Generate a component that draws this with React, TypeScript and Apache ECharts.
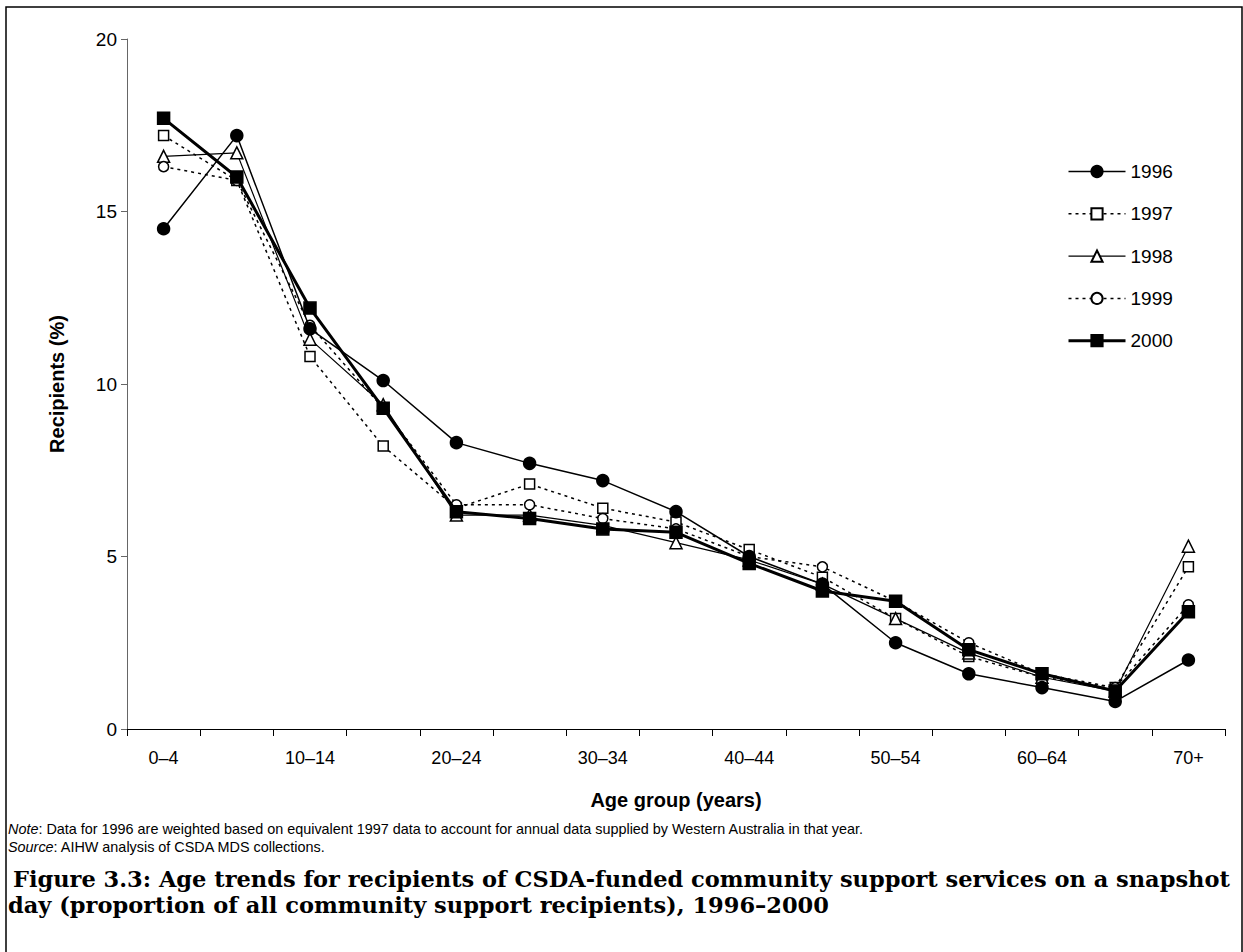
import React, { useEffect, useRef } from "react";
import * as echarts from "echarts";

const categories = ["0–4", "5–9", "10–14", "15–19", "20–24", "25–29", "30–34", "35–39", "40–44", "45–49", "50–54", "55–59", "60–64", "65–69", "70+"];
const y1996 = [14.5, 17.2, 11.6, 10.1, 8.3, 7.7, 7.2, 6.3, 5.0, 4.2, 2.5, 1.6, 1.2, 0.8, 2.0];
const y1997 = [17.2, 15.9, 10.8, 8.2, 6.4, 7.1, 6.4, 6.0, 5.2, 4.4, 3.2, 2.1, 1.5, 1.2, 4.7];
const y1998 = [16.6, 16.7, 11.3, 9.4, 6.2, 6.2, 5.9, 5.4, 4.9, 4.2, 3.2, 2.2, 1.5, 1.1, 5.3];
const y1999 = [16.3, 15.9, 11.7, 9.3, 6.5, 6.5, 6.1, 5.8, 5.0, 4.7, 3.7, 2.5, 1.6, 1.2, 3.6];
const y2000 = [17.7, 16.0, 12.2, 9.3, 6.3, 6.1, 5.8, 5.7, 4.8, 4.0, 3.7, 2.3, 1.6, 1.1, 3.4];

const SANS = "Arial, 'Liberation Sans', sans-serif";
const SERIF = "'Palatino Linotype', 'Book Antiqua', 'DejaVu Serif', serif";

export default function App() {
  const ref = useRef<HTMLDivElement>(null);
  useEffect(() => {
    if (!ref.current) return;
    const chart = echarts.init(ref.current, null, { renderer: "svg" });
    const styles: Record<string, { width: number; dotted: boolean }> = {
      "1996": { width: 1.5, dotted: false },
      "1997": { width: 1.5, dotted: true },
      "1998": { width: 1.2, dotted: false },
      "1999": { width: 1.5, dotted: true },
      "2000": { width: 3, dotted: false },
    };
    const mk = (name: string, data: number[], symbol: string, filled: boolean, size: number) => ({
      name,
      type: "line",
      data,
      symbol,
      symbolSize: size,
      lineStyle: { color: "#000", width: styles[name].width, type: styles[name].dotted ? [3, 4] : "solid" },
      itemStyle: { color: filled ? "#000" : "#fff", borderColor: "#000", borderWidth: 1.5 },
      emphasis: { disabled: true },
      z: filled ? 3 : 2,
    });
    chart.setOption({
      animation: false,
      backgroundColor: "#fff",
      grid: { left: 127, right: 18, top: 39, bottom: 223, containLabel: false },
      legend: {
        orient: "vertical",
        left: 1067,
        top: 162,
        padding: 0,
        itemWidth: 57,
        itemHeight: 14,
        itemGap: 23.3,
        textStyle: { fontSize: 19, color: "#000", fontFamily: SANS },
        data: ["1996", "1997", "1998", "1999", "2000"].map((n) => ({
          name: n,
          lineStyle: { color: "#000", width: styles[n].width, type: styles[n].dotted ? [3, 4] : "solid" },
        })),
      },
      xAxis: {
        type: "category",
        data: categories,
        boundaryGap: true,
        name: "Age group (years)",
        nameLocation: "middle",
        nameGap: 61,
        nameTextStyle: { fontSize: 20, fontWeight: "bold", color: "#000", fontFamily: SANS },
        axisLine: { lineStyle: { color: "#000", width: 1 } },
        axisTick: { show: true, interval: 0, length: 7, lineStyle: { color: "#000" } },
        axisLabel: { interval: 1, fontSize: 18, color: "#000", fontFamily: SANS, margin: 20 },
        splitLine: { show: false },
      },
      yAxis: {
        type: "value",
        min: 0,
        max: 20,
        interval: 5,
        name: "Recipients (%)",
        nameLocation: "middle",
        nameGap: 60,
        nameTextStyle: { fontSize: 20, fontWeight: "bold", color: "#000", fontFamily: SANS },
        axisLine: { show: true, lineStyle: { color: "#666", width: 1 } },
        axisTick: { show: true, length: 6, lineStyle: { color: "#666" } },
        axisLabel: { fontSize: 19, color: "#000", fontFamily: SANS, margin: 10 },
        splitLine: { show: false },
      },
      series: [
        mk("1996", y1996, "circle", true, 12),
        mk("1997", y1997, "rect", false, 10),
        mk("1998", y1998, "triangle", false, 12),
        mk("1999", y1999, "circle", false, 10),
        mk("2000", y2000, "rect", true, 12),
      ],
      graphic: [
        {
          type: "rect",
          shape: { x: 6, y: 7, width: 1236, height: 950 },
          style: { fill: "none", stroke: "#000", lineWidth: 1.5 },
          silent: true,
        },
        {
          type: "text",
          left: 8,
          top: 822,
          style: {
            text: "{i|Note}: Data for 1996 are weighted based on equivalent 1997 data to account for annual data supplied by Western Australia in that year.",
            fontSize: 14.4,
            fontFamily: SANS,
            fill: "#000",
            rich: { i: { fontStyle: "italic", fontSize: 14.4, fontFamily: SANS } },
          },
        },
        {
          type: "text",
          left: 8,
          top: 840,
          style: {
            text: "{i|Source}: AIHW analysis of CSDA MDS collections.",
            fontSize: 14.4,
            fontFamily: SANS,
            fill: "#000",
            rich: { i: { fontStyle: "italic", fontSize: 14.4, fontFamily: SANS } },
          },
        },
        {
          type: "text",
          left: 13,
          top: 867,
          style: {
            text: "Figure 3.3: Age trends for recipients of CSDA-funded community support services on a snapshot",
            fontSize: 22.5,
            fontWeight: "bold",
            fontFamily: SERIF,
            fill: "#000",
          },
        },
        {
          type: "text",
          left: 8,
          top: 893,
          style: {
            text: "day (proportion of all community support recipients), 1996–2000",
            fontSize: 22.5,
            fontWeight: "bold",
            fontFamily: SERIF,
            fill: "#000",
          },
        },
      ],
    });
    return () => chart.dispose();
  }, []);
  return <div ref={ref} style={{ position: "absolute", left: 0, top: 0, width: 1243, height: 952 }} />;
}
